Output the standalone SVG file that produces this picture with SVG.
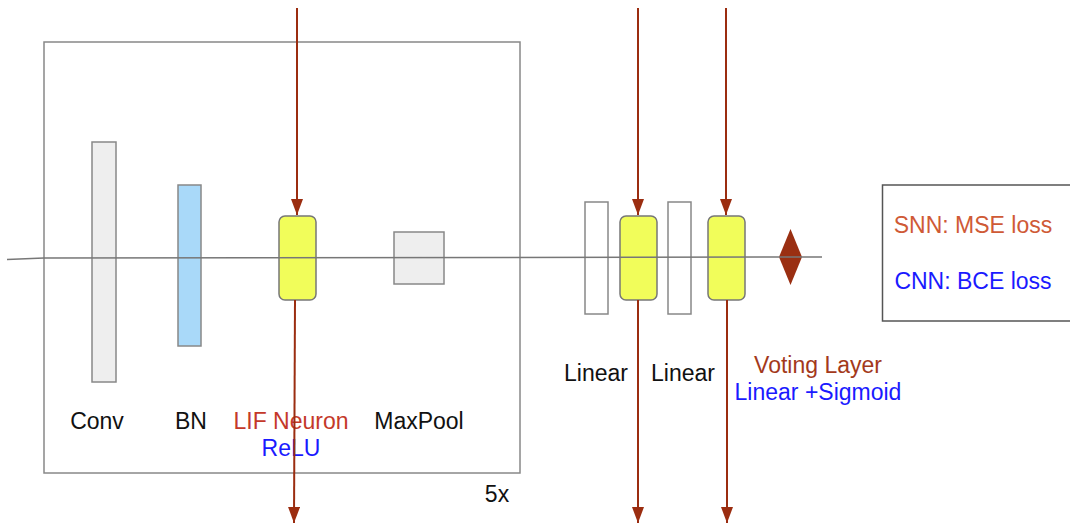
<svg xmlns="http://www.w3.org/2000/svg" width="1070" height="524" viewBox="0 0 1070 524">
<style>
text{font-family:"Liberation Sans",Arial,sans-serif;font-size:23px;text-anchor:middle}
.blk{fill:#111}
.red{fill:#c4392a}
.brn{fill:#a3391b}
.org{fill:#cf5a36}
.blu{fill:#1a1aff}
.gray{fill:#eeeeee;stroke:#888;stroke-width:1.5}
.white{fill:#fff;stroke:#888;stroke-width:1.5}
.yel{fill:#f1fd5a;stroke:#777;stroke-width:1.5}
.arr{stroke:#9b2d10;stroke-width:2;fill:none;marker-end:url(#ah)}
</style>
<defs>
<marker id="ah" viewBox="0 0 16 12" refX="16" refY="6" markerWidth="16" markerHeight="12" markerUnits="userSpaceOnUse" orient="auto">
<path d="M0,0 L16,6 L0,12 Z" fill="#9b2d10"/>
</marker>
</defs>
<rect width="1070" height="524" fill="#fff"/>
<g id="repeat-box">
<rect x="44" y="42" width="476" height="431" fill="none" stroke="#888" stroke-width="1.5"/>
<text class="blk" x="497" y="502">5x</text>
</g>
<g id="conv"><rect class="gray" x="92" y="142" width="24" height="240"/><text class="blk" x="97" y="429">Conv</text></g>
<g id="bn"><rect x="178" y="185" width="23" height="161" fill="#a9d9f9" stroke="#888" stroke-width="1.5"/><text class="blk" x="191" y="429">BN</text></g>
<g id="lif"><rect class="yel" x="279" y="216" width="37" height="84" rx="6"/><text class="red" x="291" y="429">LIF Neuron</text><text class="blu" x="291" y="456">ReLU</text></g>
<g id="maxpool"><rect class="gray" x="394" y="232" width="50" height="52"/><text class="blk" x="419" y="429">MaxPool</text></g>
<g id="linear1"><rect class="white" x="585" y="202" width="23" height="112"/><text class="blk" x="596" y="381">Linear</text></g>
<g id="act1"><rect class="yel" x="620" y="216" width="37" height="84" rx="6"/></g>
<g id="linear2"><rect class="white" x="668" y="202" width="23" height="112"/><text class="blk" x="683" y="381">Linear</text></g>
<g id="voting"><rect class="yel" x="708" y="216" width="37" height="84" rx="6"/><text class="brn" x="818" y="373">Voting Layer</text><text class="blu" x="818" y="400">Linear +Sigmoid</text></g>
<g id="output"><path d="M790.5,229 L802,257 L790.5,285 L779,257 Z" fill="#9a2f12"/></g>
<g id="legend">
<rect x="882.5" y="185" width="190" height="136" fill="none" stroke="#555" stroke-width="1.5"/>
<text class="org" x="973" y="233">SNN: MSE loss</text>
<text class="blu" x="973" y="289">CNN: BCE loss</text>
</g>
<g id="connectors">
<path d="M7,259.5 L44,258 L822,257" stroke="#777" stroke-width="1.5" fill="none"/>
<line class="arr" x1="297" y1="8" x2="297" y2="215"/>
<line class="arr" x1="295" y1="300" x2="294" y2="523"/>
<line class="arr" x1="638" y1="8" x2="638" y2="215"/>
<line class="arr" x1="638" y1="300" x2="638" y2="523"/>
<line class="arr" x1="726" y1="8" x2="726" y2="215"/>
<line class="arr" x1="727" y1="300" x2="727" y2="523"/>
</g>
</svg>
